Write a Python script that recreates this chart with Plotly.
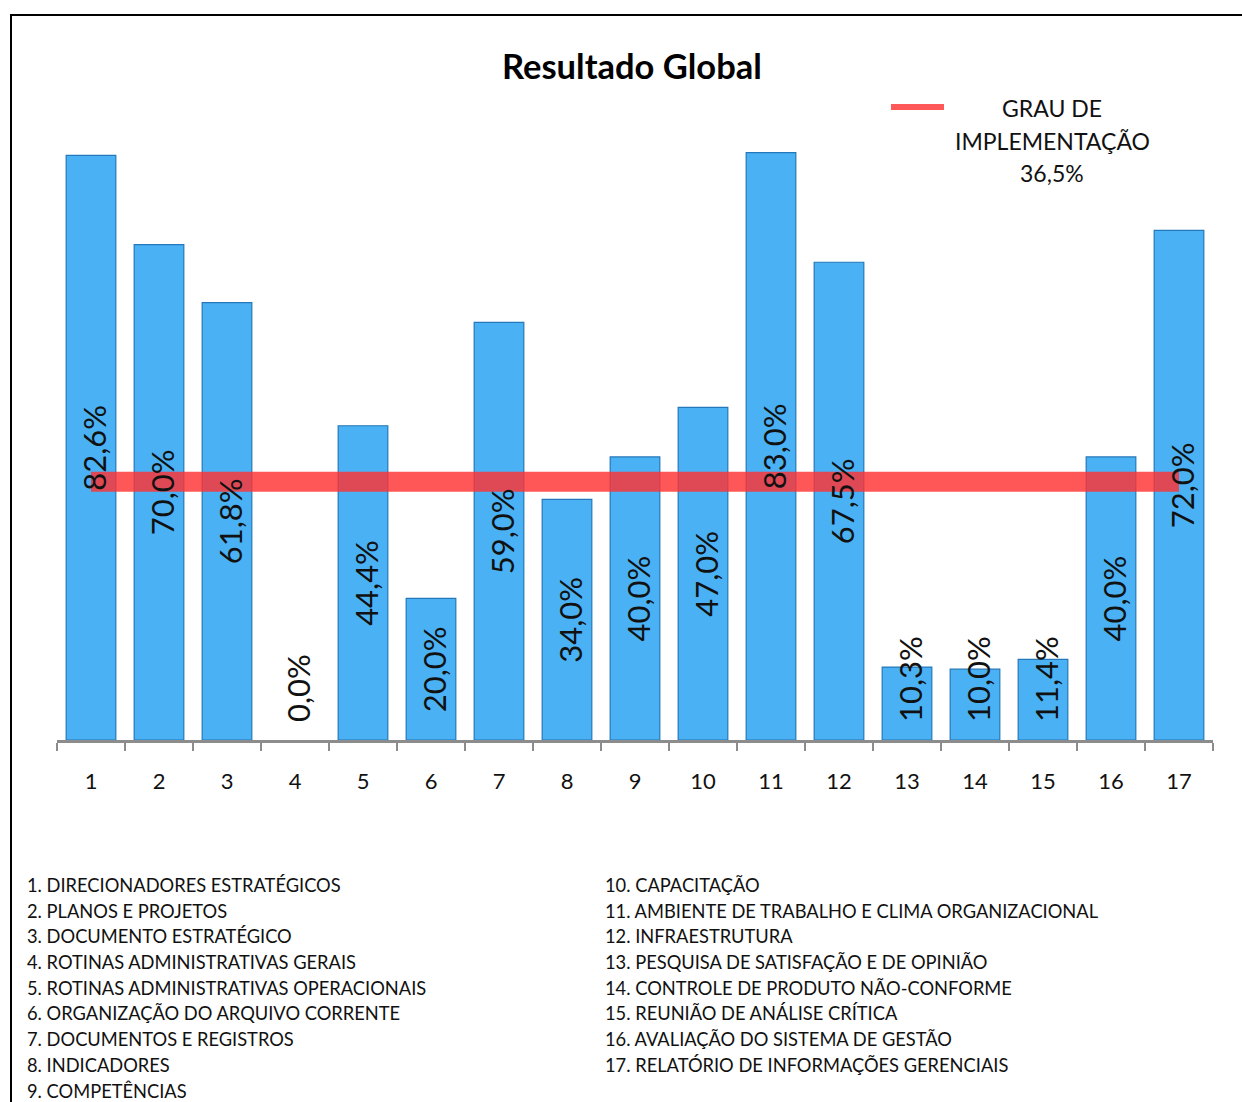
import plotly.graph_objects as go

categories = [str(i) for i in range(1, 18)]
values = [82.6, 70.0, 61.8, 0.0, 44.4, 20.0, 59.0, 34.0, 40.0, 47.0, 83.0, 67.5, 10.3, 10.0, 11.4, 40.0, 72.0]
value_labels = ["82,6%", "70,0%", "61,8%", "0,0%", "44,4%", "20,0%", "59,0%", "34,0%", "40,0%",
                "47,0%", "83,0%", "67,5%", "10,3%", "10,0%", "11,4%", "40,0%", "72,0%"]
grau = 36.5
grau_lines = ["GRAU DE", "IMPLEMENTAÇÃO", "36,5%"]
title = "Resultado Global"
items_left = ["1. DIRECIONADORES ESTRATÉGICOS", "2. PLANOS E PROJETOS", "3. DOCUMENTO ESTRATÉGICO",
              "4. ROTINAS ADMINISTRATIVAS GERAIS", "5. ROTINAS ADMINISTRATIVAS OPERACIONAIS",
              "6. ORGANIZAÇÃO DO ARQUIVO CORRENTE", "7. DOCUMENTOS E REGISTROS", "8. INDICADORES",
              "9. COMPETÊNCIAS"]
items_right = ["10. CAPACITAÇÃO", "11. AMBIENTE DE TRABALHO E CLIMA ORGANIZACIONAL", "12. INFRAESTRUTURA",
               "13. PESQUISA DE SATISFAÇÃO E DE OPINIÃO", "14. CONTROLE DE PRODUTO NÃO-CONFORME",
               "15. REUNIÃO DE ANÁLISE CRÍTICA", "16. AVALIAÇÃO DO SISTEMA DE GESTÃO",
               "17. RELATÓRIO DE INFORMAÇÕES GERENCIAIS"]

W, H = 1242, 1102
ML, MR, MT, MB = 57, 29, 103, 362
PW, PH = W - ML - MR, H - MT - MB
YMAX = 90.0
FONT = "Lato"

def px_x(p):
    return (p - ML) / PW

def px_y(p):
    return (H - MB - p) / PH

fig = go.Figure()
fig.add_trace(go.Bar(
    x=categories, y=values,
    marker=dict(color="#4ab2f4",
                line=dict(color="#2477b8", width=[1.2 if v > 0 else 0 for v in values])),
    showlegend=False, hoverinfo="skip",
))
fig.add_trace(go.Scatter(
    x=categories, y=[grau] * len(categories), mode="lines",
    line=dict(color="rgba(255,50,50,0.82)", width=20),
    showlegend=False, hoverinfo="skip",
))

ppu = PH / YMAX
annotations = []
for i, (v, lab) in enumerate(zip(values, value_labels)):
    tlen = 18.5 * len(lab)
    if v * ppu / 2 >= tlen / 2 + 18:
        annotations.append(dict(x=i, y=v / 2, xref="x", yref="y", text=lab, textangle=-90,
                                showarrow=False, yanchor="middle", xshift=3,
                                font=dict(family=FONT, size=31, color="#111")))
    else:
        annotations.append(dict(x=i, y=0, xref="x", yref="y", text=lab, textangle=-90,
                                showarrow=False, yanchor="bottom", yshift=16, xshift=3,
                                font=dict(family=FONT, size=31, color="#111")))

annotations.append(dict(x=px_x(632), y=px_y(66), xref="paper", yref="paper", text="<b>" + title + "</b>",
                        showarrow=False, xanchor="center", yanchor="middle",
                        font=dict(family=FONT, size=34.5, color="#000")))
for j, t in enumerate(grau_lines):
    annotations.append(dict(x=px_x(1052), y=px_y(108 + 32.5 * j), xref="paper", yref="paper", text=t,
                            showarrow=False, xanchor="center", yanchor="middle",
                            font=dict(family=FONT, size=23, color="#111")))
for i, t in enumerate(items_left):
    annotations.append(dict(x=px_x(25), y=px_y(885 + 25.7 * i), xref="paper", yref="paper", text=t,
                            showarrow=False, xanchor="left", yanchor="middle",
                            font=dict(family=FONT, size=18.3, color="#111")))
for i, t in enumerate(items_right):
    annotations.append(dict(x=px_x(603), y=px_y(885 + 25.7 * i), xref="paper", yref="paper", text=t,
                            showarrow=False, xanchor="left", yanchor="middle",
                            font=dict(family=FONT, size=18.3, color="#111")))

shapes = [
    dict(type="rect", xref="paper", yref="paper", x0=px_x(11), x1=px_x(1260), y0=px_y(1120), y1=px_y(15),
         line=dict(color="#000", width=2), fillcolor="rgba(0,0,0,0)", layer="above"),
    dict(type="line", xref="paper", yref="paper", x0=px_x(891), x1=px_x(944), y0=px_y(107), y1=px_y(107),
         line=dict(color="rgba(255,70,70,0.9)", width=6)),
]

fig.update_layout(
    width=W, height=H, margin=dict(l=ML, r=MR, t=MT, b=MB),
    paper_bgcolor="white", plot_bgcolor="white",
    bargap=0.27,
    xaxis=dict(type="category", range=[-0.5, 16.5], showline=True, linecolor="#8c8c8c", linewidth=3,
               ticks="outside", tickson="boundaries", ticklen=8, tickwidth=2, tickcolor="#8c8c8c",
               tickfont=dict(family=FONT, size=22, color="#111"), ticklabelstandoff=20,
               showgrid=False, zeroline=False),
    yaxis=dict(range=[0, YMAX], visible=False, showgrid=False, zeroline=False),
    annotations=annotations, shapes=shapes,
)

fig.write_html("out.html")
